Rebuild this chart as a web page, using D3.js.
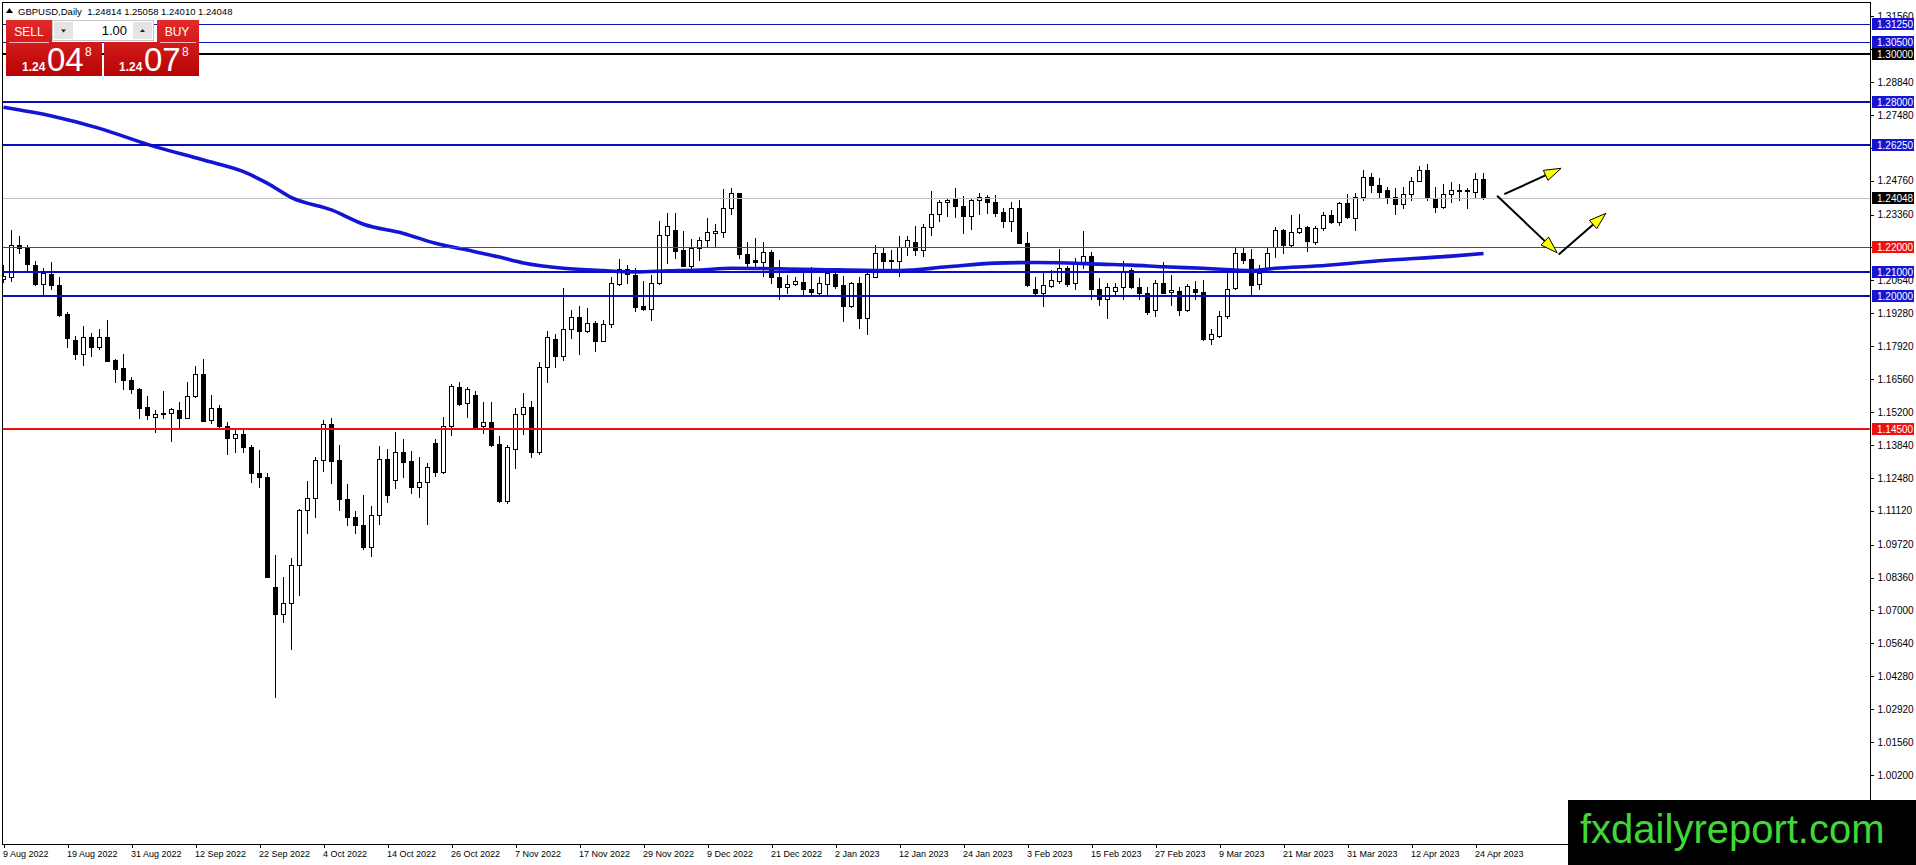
<!DOCTYPE html>
<html><head><meta charset="utf-8">
<script src="https://cdn.jsdelivr.net/npm/d3@7"></script>
<style>html,body{margin:0;padding:0;background:#fff;overflow:hidden}svg{display:block}</style>
</head><body><svg id="c" width="1916" height="865"></svg>
<script>
// ---------------- DATA ----------------
const symbol = "GBPUSD,Daily";
const dateLabels = ["9 Aug 2022","19 Aug 2022","31 Aug 2022","12 Sep 2022","22 Sep 2022","4 Oct 2022","14 Oct 2022","26 Oct 2022","7 Nov 2022","17 Nov 2022","29 Nov 2022","9 Dec 2022","21 Dec 2022","2 Jan 2023","12 Jan 2023","24 Jan 2023","3 Feb 2023","15 Feb 2023","27 Feb 2023","9 Mar 2023","21 Mar 2023","31 Mar 2023","12 Apr 2023","24 Apr 2023"];
const dateLabelBars = [0,8,16,24,32,40,48,56,64,72,80,88,96,104,112,120,128,136,144,152,160,168,176,184];

const open = [
1.2070,1.2076,1.2212,1.2198,1.2126,1.2047,1.2089,1.2043,1.1925,1.1817,
1.1761,1.1831,1.1790,1.1831,1.1735,1.1700,1.1652,1.1617,1.1539,1.1500,
1.1514,1.1514,1.1528,1.1496,1.1587,1.1677,1.1488,1.1537,1.1463,1.1411,
1.1428,1.1375,1.1267,1.1250,1.0796,1.0685,1.0730,1.0888,1.1116,1.1164,
1.1322,1.1471,1.1322,1.1160,1.1085,1.1054,1.0964,1.1094,1.1325,1.1239,
1.1354,1.1316,1.1212,1.1232,1.1391,1.1274,1.1464,1.1622,1.1556,1.1590,
1.1464,1.1480,1.1388,1.1154,1.1366,1.1510,1.1539,1.1353,1.1707,1.1820,
1.1752,1.1861,1.1913,1.1856,1.1889,1.1814,1.1883,1.2047,1.2109,1.2086,
1.1958,1.1944,1.2054,1.2251,1.2271,1.2189,1.2124,1.2198,1.2230,1.2258,
1.2264,1.2361,1.2423,1.2171,1.2148,1.2138,1.2182,1.2076,1.2037,1.2047,
1.2058,1.2028,1.2013,1.2048,1.2089,1.2044,1.1959,1.2051,1.1907,1.2079,
1.2179,1.2148,1.2142,1.2202,1.2223,1.2189,1.2283,1.2340,1.2386,1.2400,
1.2372,1.2329,1.2398,1.2407,1.2386,1.2345,1.2310,1.2365,1.2217,1.2028,
1.2013,1.2041,1.2063,1.2113,1.2055,1.2131,1.2165,1.2027,1.1985,1.2021,
1.2035,1.2106,1.2037,1.2010,1.1941,1.2055,1.2014,1.2021,1.1941,1.2028,
1.2017,1.1820,1.1835,1.1918,1.2031,1.2179,1.2152,1.2048,1.2113,1.2200,
1.2271,1.2210,1.2262,1.2283,1.2223,1.2281,1.2336,1.2306,1.2382,1.2323,
1.2409,1.2492,1.2457,1.2437,1.2409,1.2378,1.2419,1.2475,1.2519,1.2402,
1.2368,1.2419,1.2435,1.2437,1.2430,1.24814];
const high = [
1.2127,1.2274,1.2247,1.2212,1.2145,1.2113,1.2138,1.2076,1.1932,1.1834,
1.1875,1.1847,1.1861,1.1900,1.1740,1.1759,1.1666,1.1620,1.1586,1.1528,
1.1607,1.1535,1.1561,1.1644,1.1710,1.1737,1.1590,1.1549,1.1480,1.1446,
1.1453,1.1383,1.1363,1.1270,1.0930,1.0837,1.0916,1.1118,1.1235,1.1333,
1.1487,1.1494,1.1384,1.1223,1.1111,1.1177,1.1132,1.1380,1.1366,1.1438,
1.1407,1.1359,1.1333,1.1311,1.1407,1.1498,1.1636,1.1643,1.1625,1.1608,
1.1563,1.1563,1.1421,1.1384,1.1538,1.1597,1.1565,1.1728,1.1856,1.1842,
1.2031,1.1941,1.1958,1.1948,1.1897,1.1900,1.2076,1.2152,1.2127,1.2113,
1.2061,1.2086,1.2310,1.2343,1.2343,1.2269,1.2233,1.2244,1.2322,1.2295,
1.2440,1.2444,1.2425,1.2221,1.2237,1.2223,1.2189,1.2148,1.2086,1.2076,
1.2095,1.2120,1.2076,1.2099,1.2093,1.2082,1.2058,1.2076,1.2093,1.2210,
1.2196,1.2189,1.2247,1.2247,1.2288,1.2296,1.2433,1.2398,1.2405,1.2444,
1.2412,1.2402,1.2426,1.2416,1.2416,1.2365,1.2388,1.2398,1.2262,1.2076,
1.2093,1.2106,1.2193,1.2123,1.2155,1.2267,1.2182,1.2072,1.2051,1.2055,
1.2143,1.2113,1.2072,1.2037,1.2065,1.2141,1.2086,1.2037,1.2048,1.2061,
1.2065,1.1861,1.1938,1.2093,1.2196,1.2196,1.2193,1.2127,1.2198,1.2283,
1.2278,1.2333,1.2340,1.2288,1.2288,1.2347,1.2354,1.2388,1.2420,1.2423,
1.2522,1.2508,1.2485,1.2450,1.2444,1.2450,1.2492,1.2536,1.2544,1.2448,
1.2464,1.2471,1.2464,1.2444,1.2506,1.25058];
const low = [
1.2058,1.2062,1.2178,1.2103,1.2044,1.2003,1.2027,1.1918,1.1790,1.1740,
1.1715,1.1751,1.1781,1.1730,1.1645,1.1616,1.1597,1.1496,1.1491,1.1438,
1.1494,1.1401,1.1458,1.1494,1.1582,1.1482,1.1476,1.1459,1.1346,1.1353,
1.1356,1.1232,1.1209,1.0837,1.0344,1.0652,1.0540,1.0762,1.1022,1.1085,
1.1278,1.1226,1.1116,1.1051,1.1019,1.0953,1.0923,1.1056,1.1150,1.1208,
1.1253,1.1184,1.1168,1.1058,1.1256,1.1267,1.1425,1.1549,1.1501,1.1455,
1.1435,1.1380,1.1150,1.1145,1.1287,1.1428,1.1333,1.1348,1.1645,1.1707,
1.1735,1.1827,1.1759,1.1852,1.1773,1.1812,1.1872,1.2043,1.2054,1.1938,
1.1942,1.1900,1.2047,1.2134,1.2157,1.2123,1.2106,1.2148,1.2202,1.2207,
1.2244,1.2340,1.2155,1.2117,1.2117,1.2082,1.2051,1.1989,1.2013,1.2044,
1.2003,1.2003,1.2007,1.2003,1.2031,1.1897,1.1955,1.1868,1.1841,1.2077,
1.2110,1.2106,1.2082,1.2168,1.2168,1.2164,1.2251,1.2310,1.2329,1.2327,
1.2260,1.2276,1.2338,1.2343,1.2329,1.2283,1.2269,1.2217,1.2041,1.2003,
1.1958,1.2035,1.2055,1.2041,1.2027,1.2113,1.1985,1.1962,1.1909,1.2007,
1.1985,1.2031,1.1989,1.1927,1.1918,1.2011,1.1962,1.1920,1.1938,1.1989,
1.1817,1.1801,1.1831,1.1907,1.2028,1.2134,1.2003,1.2027,1.2110,1.2161,
1.2175,1.2202,1.2258,1.2186,1.2214,1.2271,1.2299,1.2292,1.2323,1.2271,
1.2395,1.2430,1.2409,1.2384,1.2340,1.2361,1.2395,1.2473,1.2398,1.2347,
1.2365,1.2388,1.2398,1.2365,1.2407,1.24010];
const close = [
1.2084,1.2212,1.2196,1.2130,1.2047,1.2093,1.2043,1.1920,1.1824,1.1761,
1.1831,1.1790,1.1828,1.1732,1.1699,1.1651,1.1616,1.1538,1.1506,1.1510,
1.1510,1.1531,1.1496,1.1586,1.1677,1.1484,1.1535,1.1462,1.1414,1.1428,
1.1374,1.1267,1.1250,1.0840,1.0685,1.0730,1.0888,1.1116,1.1164,1.1322,
1.1471,1.1319,1.1160,1.1085,1.1051,1.0964,1.1094,1.1325,1.1175,1.1354,
1.1315,1.1212,1.1232,1.1292,1.1274,1.1464,1.1628,1.1553,1.1614,1.1460,
1.1480,1.1384,1.1153,1.1377,1.1510,1.1539,1.1353,1.1707,1.1828,1.1752,
1.1861,1.1911,1.1856,1.1886,1.1814,1.1883,1.2051,1.2109,1.2090,1.1955,
1.1944,1.2054,1.2251,1.2288,1.2186,1.2124,1.2198,1.2230,1.2262,1.2267,
1.2361,1.2423,1.2171,1.2134,1.2139,1.2182,1.2076,1.2037,1.2048,1.2061,
1.2027,1.2014,1.2051,1.2093,1.2040,1.1959,1.2051,1.1907,1.2089,1.2179,
1.2145,1.2142,1.2202,1.2230,1.2189,1.2283,1.2340,1.2386,1.2395,1.2372,
1.2329,1.2398,1.2407,1.2388,1.2343,1.2310,1.2365,1.2219,1.2044,1.2013,
1.2044,1.2065,1.2113,1.2048,1.2131,1.2165,1.2027,1.1985,1.2035,1.2035,
1.2103,1.2037,1.2010,1.1934,1.2055,1.2013,1.2024,1.1941,1.2040,1.2017,
1.1820,1.1841,1.1918,1.2028,1.2179,1.2150,1.2044,1.2095,1.2175,1.2271,
1.2210,1.2262,1.2281,1.2227,1.2281,1.2336,1.2306,1.2382,1.2326,1.2409,
1.2492,1.2457,1.2430,1.2409,1.2378,1.2419,1.2475,1.2519,1.2409,1.2368,
1.2420,1.2437,1.2438,1.2438,1.2481,1.24048];

// moving average read at sampled bars
const maBars   = [0,6,12,18,25,30,33,36,41,45,50,54,58,62,65,70,75,79,83,87,91,100,112,118,124,129,133,137,141,145,150,156,159,164,172,181,185];
const maValues = [1.2779,1.2743,1.2692,1.2626,1.2561,1.2513,1.2465,1.2406,1.2355,1.2296,1.2258,1.2217,1.2189,1.2160,1.2136,1.2114,1.2104,1.2099,1.2103,1.2107,1.2114,1.2110,1.2104,1.2120,1.2135,1.2138,1.2136,1.2131,1.2127,1.2120,1.2114,1.2104,1.2114,1.2123,1.2145,1.2164,1.2175];

const priceTicks = ["1.31560","1.30200","1.28840","1.27480","1.26120","1.24760","1.23360","1.22000","1.20640","1.19280","1.17920","1.16560","1.15200","1.13840","1.12480","1.11120","1.09720","1.08360","1.07000","1.05640","1.04280","1.02920","1.01560","1.00200"];

const blueThinLevels = [1.3125, 1.3050];
const blackLevels    = [1.3000];
const blueLevels     = [1.2800, 1.2625, 1.2100, 1.2000];
const redThinLevels  = [1.2200];
const redLevels      = [1.1450];

const arrowFromBar   = [187.6, 186.7, 194.4];
const arrowFromPrice = [1.2420, 1.2414, 1.2171];
const arrowToBar     = [194.7, 194.2, 200.3];
const arrowToPrice   = [1.2527, 1.2178, 1.2341];

const sellPrice = ["1.24","04","8"];
const buyPrice  = ["1.24","07","8"];
const lotSize = "1.00";
const siteName = "fxdailyreport.com";

// ---------------- LAYOUT ----------------
const FONT = "'Liberation Sans', Arial, sans-serif";
const PL = 2, PT = 2, PR = 1870, PB = 844;
const svg = d3.select("#c");
const n = open.length;
const x = d3.scaleLinear().domain([0, n - 1]).range([3.5, 3.5 + 8 * (n - 1)]);
const y = d3.scaleLinear().domain([1.002, 1.3156]).range([775, 775 - 0.3136 * 2420]);
const fmt = d3.format(".5f");

const defs = svg.append("defs");
defs.append("clipPath").attr("id", "plotclip").append("rect")
  .attr("x", PL + 1).attr("y", PT + 1).attr("width", PR - PL - 1).attr("height", PB - PT - 1);
const g1 = defs.append("linearGradient").attr("id", "redg").attr("x1", 0).attr("x2", 0).attr("y1", 0).attr("y2", 1);
g1.append("stop").attr("offset", "0%").attr("stop-color", "#e42a2a");
g1.append("stop").attr("offset", "100%").attr("stop-color", "#b80404");

svg.append("rect").attr("width", 1916).attr("height", 865).attr("fill", "#fff");

const plot = svg.append("g").attr("clip-path", "url(#plotclip)");

// candles
const bars = open.map((o, i) => ({ i, o, h: high[i], l: low[i], c: close[i] }));
const cg = plot.append("g").attr("shape-rendering", "crispEdges");
cg.selectAll("line").data(bars).join("line")
  .attr("x1", d => x(d.i)).attr("x2", d => x(d.i))
  .attr("y1", d => Math.round(y(d.h))).attr("y2", d => Math.round(y(d.l)) + 1)
  .attr("stroke", "#000").attr("stroke-width", 1);
cg.selectAll("rect").data(bars).join("rect")
  .attr("x", d => x(d.i) - 2).attr("width", 4)
  .attr("y", d => Math.round(y(Math.max(d.o, d.c))) + 0.5)
  .attr("height", d => Math.max(1, Math.round(y(Math.min(d.o, d.c))) - Math.round(y(Math.max(d.o, d.c)))))
  .attr("fill", d => d.c >= d.o ? "#fff" : "#000")
  .attr("stroke", "#000").attr("stroke-width", 1);

// current price line
const last = close[n - 1];
plot.append("line").attr("shape-rendering", "crispEdges")
  .attr("x1", PL).attr("x2", PR)
  .attr("y1", Math.round(y(last)) + 0.5).attr("y2", Math.round(y(last)) + 0.5)
  .attr("stroke", "#c0c0c0");

// moving average
const ma = maBars.map((b, i) => ({ b, v: maValues[i] }));
plot.append("path").datum(ma)
  .attr("d", d3.line().x(d => x(d.b)).y(d => y(d.v)).curve(d3.curveMonotoneX))
  .attr("fill", "none").attr("stroke", "#1414d4").attr("stroke-width", 3.6);

// horizontal levels
function levels(arr, color, w) {
  plot.append("g").attr("shape-rendering", "crispEdges").selectAll("line").data(arr).join("line")
    .attr("x1", PL).attr("x2", PR)
    .attr("y1", d => w === 1 ? Math.round(y(d)) + 0.5 : Math.round(y(d)))
    .attr("y2", d => w === 1 ? Math.round(y(d)) + 0.5 : Math.round(y(d)))
    .attr("stroke", color).attr("stroke-width", w);
}
levels(blueThinLevels, "#1010c0", 1);
levels(blackLevels, "#000", 2);
levels(blueLevels, "#0c0cbe", 2.2);
levels(redThinLevels, "#e01010", 1);
levels(redLevels, "#ee1010", 2.2);

// arrows
const ag = plot.append("g");
arrowFromBar.forEach((b0, k) => {
  const x0 = x(b0), y0 = y(arrowFromPrice[k]), x1 = x(arrowToBar[k]), y1 = y(arrowToPrice[k]);
  const dx = x1 - x0, dy = y1 - y0, L = Math.hypot(dx, dy);
  const ux = dx / L, uy = dy / L, nx = -uy, ny = ux;
  const hl = 17, hw = 5.5;
  ag.append("line").attr("x1", x0).attr("y1", y0).attr("x2", x1 - ux * 10).attr("y2", y1 - uy * 10)
    .attr("stroke", "#000").attr("stroke-width", 2);
  const bx = x1 - ux * hl, by = y1 - uy * hl;
  ag.append("path")
    .attr("d", `M${x1},${y1}L${bx + nx * hw},${by + ny * hw}L${bx - nx * hw},${by - ny * hw}Z`)
    .attr("fill", "#ffff00").attr("stroke", "#000").attr("stroke-width", 1);
});

// frame
svg.append("rect").attr("shape-rendering", "crispEdges")
  .attr("x", PL + 0.5).attr("y", PT + 0.5).attr("width", PR - PL).attr("height", PB - PT)
  .attr("fill", "none").attr("stroke", "#000");

// right level labels (collected first so that covered tick labels can be hidden)
const lab = [];
blueThinLevels.forEach(v => lab.push({ v, c: "#1616d2" }));
blackLevels.forEach(v => lab.push({ v, c: "#000" }));
blueLevels.forEach(v => lab.push({ v, c: "#1616d2" }));
redThinLevels.forEach(v => lab.push({ v, c: "#f01010" }));
redLevels.forEach(v => lab.push({ v, c: "#f01010" }));
lab.push({ v: last, c: "#000" });

// right axis
const ra = svg.append("g").attr("transform", `translate(${PR + 0.5},0)`)
  .call(d3.axisRight(y).tickValues(priceTicks.map(Number)).tickFormat((d, i) => priceTicks[i]).tickSize(3).tickPadding(4));
ra.select(".domain").remove();
ra.selectAll("line").attr("stroke", "#000").attr("shape-rendering", "crispEdges");
ra.selectAll("text").attr("font-family", FONT).attr("font-size", 10).attr("fill", "#000")
  .style("display", d => lab.some(l => Math.abs(y(l.v) - y(d)) < 7) ? "none" : null);

const lg = svg.append("g").selectAll("g").data(lab).join("g")
  .attr("transform", d => `translate(${PR + 2},${Math.round(y(d.v))})`);
lg.append("rect").attr("x", 0).attr("y", -6).attr("width", 42).attr("height", 12).attr("fill", d => d.c);
lg.append("text").attr("x", 5).attr("y", 0).attr("dy", "0.35em")
  .attr("font-family", FONT).attr("font-size", 10).attr("fill", "#fff").text(d => fmt(d.v));

// bottom axis
const ba = svg.append("g").attr("transform", `translate(0,${PB + 0.5})`)
  .call(d3.axisBottom(x).tickValues(dateLabelBars).tickFormat((d, i) => dateLabels[i]).tickSize(3).tickPadding(3));
ba.select(".domain").remove();
ba.selectAll("line").attr("stroke", "#000").attr("shape-rendering", "crispEdges");
ba.selectAll("text").attr("font-family", FONT).attr("font-size", 9).attr("fill", "#000")
  .attr("text-anchor", "start").attr("x", -1);

// title
const tg = svg.append("g");
tg.append("path").attr("d", "M6,13L9.5,8L13,13Z").attr("fill", "#000");
tg.append("text").attr("x", 18).attr("y", 14.5).attr("font-family", FONT).attr("font-size", 9.5).attr("fill", "#000")
  .text(`${symbol}  ${fmt(open[n-1])} ${fmt(high[n-1])} ${fmt(low[n-1])} ${fmt(close[n-1])}`)
  .attr("xml:space", "preserve");

// trade panel
const wp = svg.append("g");
wp.append("path").attr("d", "M6,20H52V42H102V76H6Z").attr("fill", "url(#redg)");
wp.append("path").attr("d", "M157,20H199V76H104V42H157Z").attr("fill", "url(#redg)");
wp.append("line").attr("x1", 9).attr("x2", 49).attr("y1", 42.5).attr("y2", 42.5).attr("stroke", "#f6b0b0");
wp.append("line").attr("x1", 160).attr("x2", 196).attr("y1", 42.5).attr("y2", 42.5).attr("stroke", "#f6b0b0");
wp.append("rect").attr("x", 52.5).attr("y", 20.5).attr("width", 101).attr("height", 20).attr("fill", "#fff").attr("stroke", "#c8c8c8");
wp.append("rect").attr("x", 54).attr("y", 22).attr("width", 19).attr("height", 17).attr("fill", "#e4e4e4");
wp.append("rect").attr("x", 133).attr("y", 22).attr("width", 19).attr("height", 17).attr("fill", "#e4e4e4");
wp.append("path").attr("d", "M61,29.5H66L63.5,32.5Z").attr("fill", "#222");
wp.append("path").attr("d", "M140,32H145L142.5,29Z").attr("fill", "#222");
wp.append("text").attr("x", 127).attr("y", 35).attr("text-anchor", "end").attr("font-family", FONT).attr("font-size", 13).attr("fill", "#000").text(lotSize);
wp.append("text").attr("x", 29).attr("y", 36).attr("text-anchor", "middle").attr("font-family", FONT).attr("font-size", 12).attr("fill", "#fff").text("SELL");
wp.append("text").attr("x", 177).attr("y", 36).attr("text-anchor", "middle").attr("font-family", FONT).attr("font-size", 12).attr("fill", "#fff").text("BUY");
function bigPrice(parts, x0) {
  wp.append("text").attr("x", x0).attr("y", 71).attr("font-family", FONT).attr("font-size", 12).attr("font-weight", "bold").attr("fill", "#fff").text(parts[0]);
  wp.append("text").attr("x", x0 + 25).attr("y", 71).attr("font-family", FONT).attr("font-size", 33).attr("fill", "#fff").text(parts[1]);
  wp.append("text").attr("x", x0 + 63).attr("y", 56).attr("font-family", FONT).attr("font-size", 12).attr("fill", "#fff").text(parts[2]);
}
bigPrice(sellPrice, 22);
bigPrice(buyPrice, 119);

// watermark box
svg.append("rect").attr("x", 1568).attr("y", 800).attr("width", 348).attr("height", 65).attr("fill", "#000");
svg.append("text").attr("x", 1580).attr("y", 843).attr("font-family", FONT).attr("font-size", 40).attr("fill", "#40d838").text(siteName);
</script>
</body></html>
